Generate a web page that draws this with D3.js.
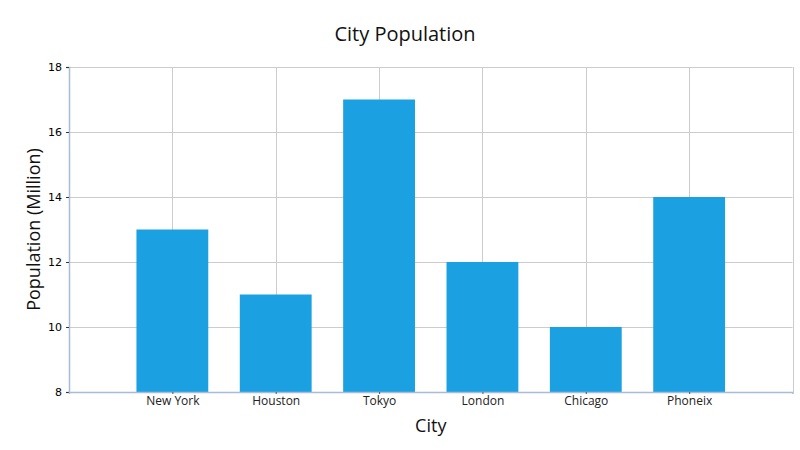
<!DOCTYPE html>
<meta charset="utf-8">
<script src="https://d3js.org/d3.v7.min.js"></script>
<style>
    body { margin: 0; background: #fff; }
    text { font-family: "Open Sans", "Noto Sans", sans-serif; }
</style>
<div id="vis"></div>
<script>
    // data
    var cities = ["New York", "Houston", "Tokyo", "London", "Chicago", "Phoneix"];
    var population = [13, 11, 17, 12, 10, 14];
    var yTicks = [8, 10, 12, 14, 16, 18];

    // dimensions&&margins
    var W = 800, H = 450;
    var mgn = { top: 67, rgt: 7.5, btm: 58, lft: 69 },
        wid = W - mgn.lft - mgn.rgt,
        hgt = H - mgn.top - mgn.btm;

    var root = d3.select("#vis")
        .append("svg")
        .attr("width", W)
        .attr("height", H);

    var svg = root.append("g")
        .attr("transform", "translate(" + mgn.lft + "," + mgn.top + ")");

    // x: categories sit at 1..n on a 0..n+1 range
    var x = d3.scaleLinear()
        .domain([0, cities.length + 1])
        .range([0, wid]);
    var slot = x(1) - x(0);
    var barW = slot * 0.695;

    var y = d3.scaleLinear()
        .domain([8, 18])
        .range([hgt, 0]);

    // gridlines
    svg.append("g")
        .selectAll("line.hg")
        .data(yTicks)
        .enter().append("line")
        .attr("x1", 0).attr("x2", wid)
        .attr("y1", function (d) { return Math.round(y(d)) + 0.5; })
        .attr("y2", function (d) { return Math.round(y(d)) + 0.5; })
        .attr("stroke", "#cccccc");

    var vg = [0].concat(cities.map(function (c, i) { return i + 1; }), [cities.length + 1]);
    svg.append("g")
        .selectAll("line.vg")
        .data(vg)
        .enter().append("line")
        .attr("x1", function (d) { return Math.round(x(d)) + 0.5; })
        .attr("x2", function (d) { return Math.round(x(d)) + 0.5; })
        .attr("y1", 0).attr("y2", hgt)
        .attr("stroke", "#cccccc");

    // bars
    svg.append("g")
        .selectAll("rect")
        .data(population)
        .enter().append("rect")
        .attr("x", function (d, i) { return x(i + 1) - barW / 2; })
        .attr("y", function (d) { return y(d); })
        .attr("width", barW)
        .attr("height", function (d) { return hgt - y(d); })
        .style("fill", "#1ba1e2");

    // y axis
    var yAx = svg.append("g")
        .call(d3.axisLeft(y).tickValues(yTicks).tickSize(3).tickPadding(4));
    yAx.select(".domain").attr("stroke", "#a9bcd6").attr("stroke-width", 1.5);
    yAx.selectAll(".tick line").attr("stroke", "#333");
    yAx.selectAll("text").style("font-size", "11px").attr("fill", "#000")
        .style("font-family", "'DejaVu Sans', sans-serif");

    // x axis
    var xAx = svg.append("g")
        .attr("transform", "translate(0," + hgt + ")")
        .call(d3.axisBottom(x)
            .tickValues(cities.map(function (c, i) { return i + 1; }))
            .tickFormat(function (d) { return cities[d - 1]; })
            .tickSize(2).tickPadding(2));
    xAx.select(".domain").attr("stroke", "#a9bcd6").attr("stroke-width", 1.5);
    xAx.selectAll(".tick line").attr("stroke", "#555");
    xAx.selectAll("text").style("font-size", "12px").attr("fill", "#222");

    // title && axis labels
    root.append("text")
        .attr("x", W / 2 + 5)
        .attr("y", 41)
        .text("City Population")
        .style("text-anchor", "middle")
        .style("font-size", "20px")
        .attr("fill", "#111");
    root.append("text")
        .attr("x", mgn.lft + wid / 2)
        .attr("y", 432)
        .text("City")
        .style("text-anchor", "middle")
        .style("font-size", "18px")
        .attr("fill", "#111");
    root.append("text")
        .attr("transform", "translate(40," + (mgn.top + hgt / 2) + ") rotate(-90)")
        .text("Population (Million)")
        .style("text-anchor", "middle")
        .style("font-size", "18px")
        .attr("fill", "#111");
</script>
